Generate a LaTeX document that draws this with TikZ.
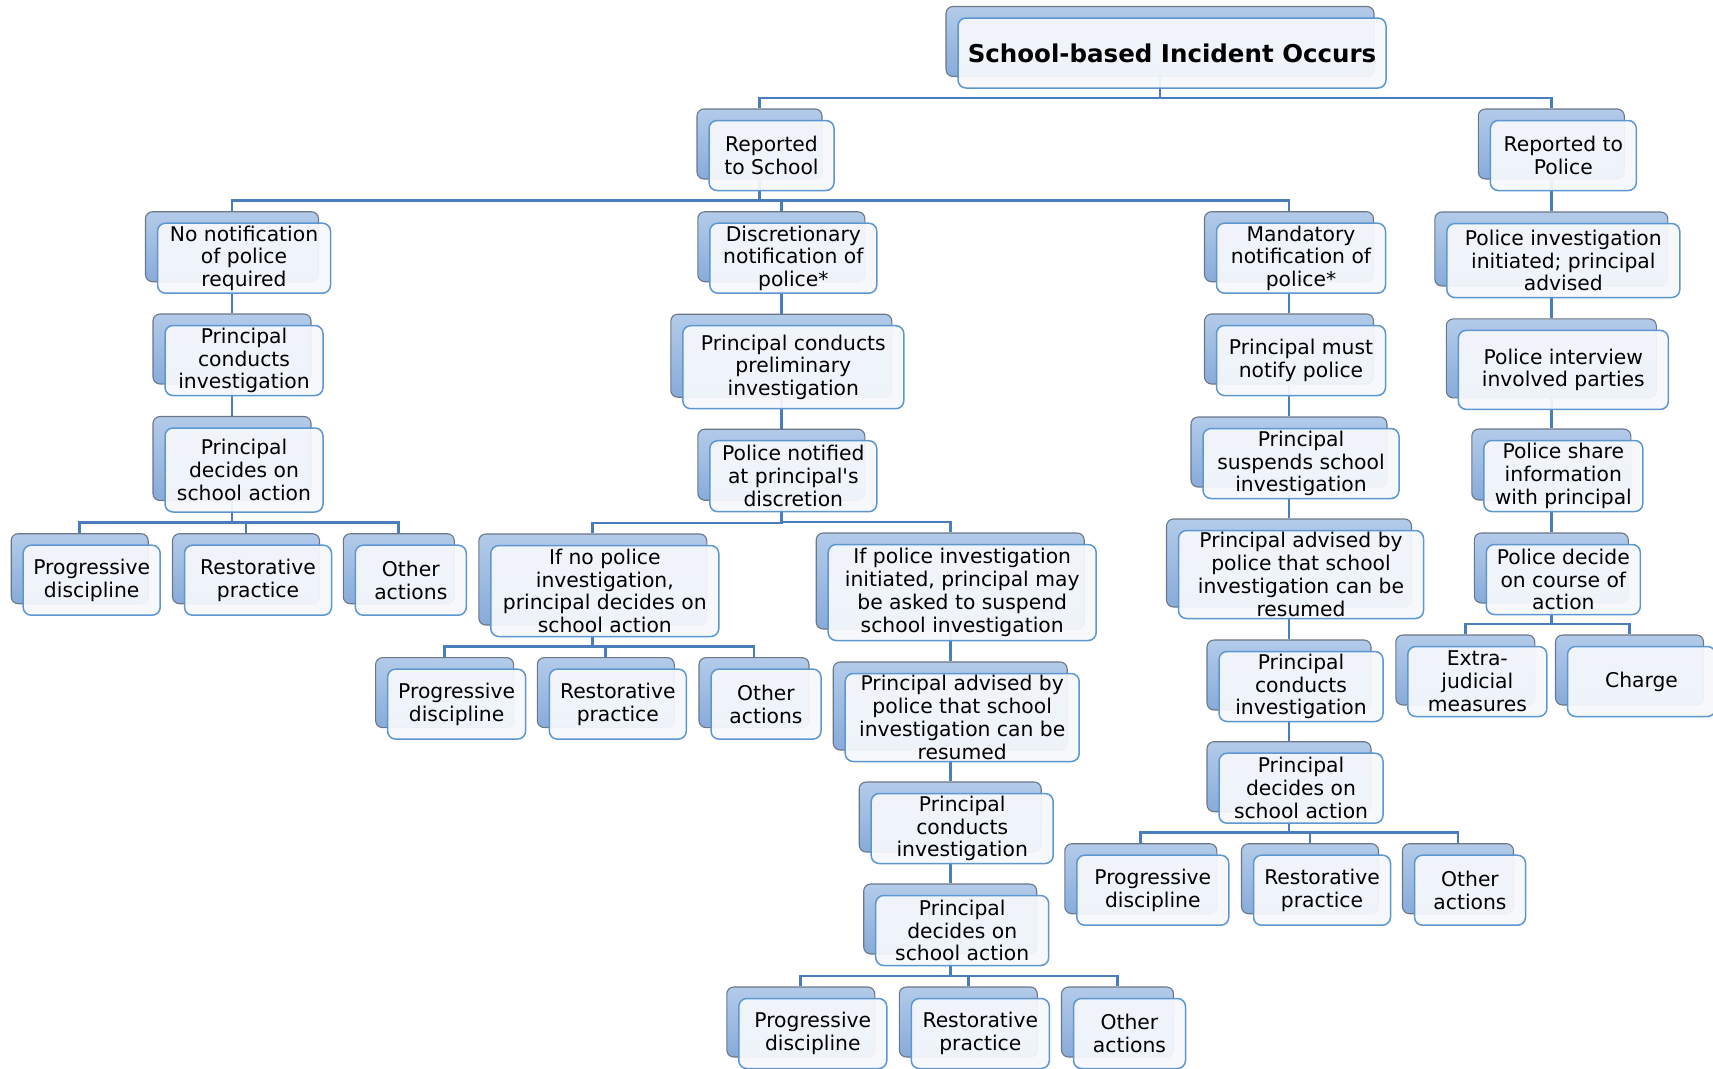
\documentclass[tikz,border=0pt]{standalone}
\usepackage{fontspec}
\setmainfont{DejaVu Sans}
\usetikzlibrary{calc,backgrounds}

\definecolor{backtop}{HTML}{B3CBEA}
\definecolor{backbot}{HTML}{88ABD9}
\definecolor{backline}{HTML}{6C7785}
\definecolor{frontfill}{HTML}{F5F8FC}
\definecolor{frontline}{HTML}{5D97D1}
\definecolor{linkblue}{HTML}{4A7DBC}

% back card (name) plus the text card laid over it (name f)
\newcommand{\cardpair}[6]{%
  \node[backbox, minimum width=#4pt, minimum height=#5pt] (#1) at (#2,#3) {};
  \node[frontbox, minimum width=#4pt, minimum height=#5pt] (#1f) at ($(#1)+(12,11.5)$) {#6};
}

\begin{document}
\begin{tikzpicture}[x=1pt, y=-1pt,
    backbox/.style={draw=backline, line width=1.1pt, rounded corners=7pt,
      top color=backtop, bottom color=backbot, inner sep=0pt},
    frontbox/.style={draw=frontline, line width=1.5pt, rounded corners=8pt,
      fill=frontfill, fill opacity=0.94, text opacity=1, inner sep=0pt,
      align=center, font=\fontsize{20.3}{22.8}\selectfont},
    link/.style={draw=linkblue, line width=2.8pt}]
  \useasboundingbox (0,0) rectangle (1713,1068);

  % top
  \cardpair{top}{1160}{41.5}{428}{70}{\bfseries\fontsize{24.5}{28}\selectfont School-based Incident Occurs}
  \cardpair{rs}{759.5}{144}{125}{70}{Reported\\to School}
  \cardpair{rp}{1551.3}{144}{146}{70}{Reported to\\Police}

  % second row
  \cardpair{nn}{232}{246.7}{173}{70}{No notification\\of police\\required}
  \cardpair{dn}{781.3}{246.7}{167}{70}{Discretionary\\notification of\\police*}
  \cardpair{mn}{1289}{246.7}{169}{70}{Mandatory\\notification of\\police*}
  \cardpair{pi}{1551.3}{249}{233}{74}{Police investigation\\initiated; principal\\advised}

  % no notification branch
  \cardpair{pc1}{232}{349}{158}{70}{Principal\\conducts\\investigation}
  \cardpair{pd1}{232}{458.5}{158}{84}{Principal\\decides on\\school action}
  \cardpair{pg1}{79.7}{568.7}{137}{70}{Progressive\\discipline}
  \cardpair{rp1}{246}{568.7}{147}{70}{Restorative\\practice}
  \cardpair{oa1}{398.8}{568.7}{111}{70}{Other\\actions}

  % discretionary branch
  \cardpair{ppi}{781.3}{355.7}{221}{83}{Principal conducts\\preliminary\\investigation}
  \cardpair{pn}{781.3}{464.7}{167}{71}{Police notified\\at principal\textquotesingle s\\discretion}
  \cardpair{np}{592.8}{579.5}{228}{91}{If no police\\investigation,\\principal decides on\\school action}
  \cardpair{pin}{950.2}{581}{268}{96}{If police investigation\\initiated, principal may\\be asked to suspend\\school investigation}
  \cardpair{pg2}{444.6}{692.6}{138}{70}{Progressive\\discipline}
  \cardpair{rp2}{605.8}{692.6}{137}{70}{Restorative\\practice}
  \cardpair{oa2}{754}{692.6}{110}{70}{Other\\actions}
  \cardpair{pa2}{950.2}{706}{234}{88}{Principal advised by\\police that school\\investigation can be\\resumed}
  \cardpair{pc2}{950.2}{817}{182}{70}{Principal\\conducts\\investigation}
  \cardpair{pd2}{950.2}{919}{173}{70}{Principal\\decides on\\school action}
  \cardpair{pg3}{800.8}{1022}{148}{70}{Progressive\\discipline}
  \cardpair{rp3}{968.3}{1022}{138}{70}{Restorative\\practice}
  \cardpair{oa3}{1117.5}{1022}{112}{70}{Other\\actions}

  % mandatory branch
  \cardpair{mu}{1289}{349}{169}{70}{Principal must\\notify police}
  \cardpair{su}{1289}{452}{196}{70}{Principal\\suspends school\\investigation}
  \cardpair{pa3}{1289}{563}{245}{88}{Principal advised by\\police that school\\investigation can be\\resumed}
  \cardpair{pc3}{1289}{675}{164}{70}{Principal\\conducts\\investigation}
  \cardpair{pd3}{1289}{776.7}{164}{70}{Principal\\decides on\\school action}
  \cardpair{pg4}{1140.8}{878.7}{152}{70}{Progressive\\discipline}
  \cardpair{rp4}{1310}{878.7}{137}{70}{Restorative\\practice}
  \cardpair{oa4}{1458}{878.7}{111}{70}{Other\\actions}

  % police branch
  \cardpair{iv}{1551.3}{358.4}{210}{79}{Police interview\\involved parties}
  \cardpair{sh}{1551.3}{464.5}{159}{71}{Police share\\information\\with principal}
  \cardpair{dc}{1551.3}{568}{154}{70}{Police decide\\on course of\\action}
  \cardpair{ej}{1465.3}{670}{139}{70}{Extra-\\judicial\\measures}
  \cardpair{ch}{1629.5}{670}{148}{70}{Charge}

  % connectors
  \begin{scope}[on background layer]
    \foreach \p/\c in {top/rs, top/rp, rs/nn, rs/dn, rs/mn, rp/pi,
        nn/pc1, pc1/pd1, pd1/pg1, pd1/rp1, pd1/oa1,
        dn/ppi, ppi/pn, pn/np, pn/pin, np/pg2, np/rp2, np/oa2,
        pin/pa2, pa2/pc2, pc2/pd2, pd2/pg3, pd2/rp3, pd2/oa3,
        mn/mu, mu/su, su/pa3, pa3/pc3, pc3/pd3, pd3/pg4, pd3/rp4, pd3/oa4,
        pi/iv, iv/sh, sh/dc, dc/ej, dc/ch}
      \draw[link] (\p.south) |- ($(\c.north)+(0,-10.5)$) -- (\c.north);
  \end{scope}
\end{tikzpicture}
\end{document}
